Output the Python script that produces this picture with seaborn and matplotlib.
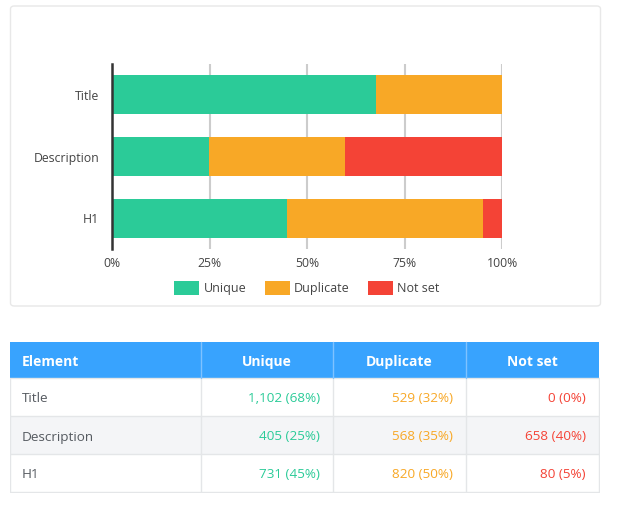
import matplotlib
matplotlib.use('Agg')
import matplotlib.pyplot as plt
import seaborn as sns
import pandas as pd
from matplotlib.patches import Rectangle, FancyBboxPatch, Patch
from matplotlib.ticker import PercentFormatter

# Data
elements = ['Title', 'Description', 'H1']
unique = [1102, 405, 731]
duplicate = [529, 568, 820]
not_set = [0, 658, 80]
series = ['Unique', 'Duplicate', 'Not set']
colors = ['#2bcb98', '#f8a826', '#f44336']
xticks = [0, 25, 50, 75, 100]

sns.set_theme(style='white')
plt.rcParams['font.family'] = ['Open Sans', 'DejaVu Sans']

W, H = 617, 508
fig = plt.figure(figsize=(W / 100, H / 100), dpi=100)


def box(x0, y0, x1, y1):
    # pixel box -> figure fraction rect
    return [x0 / W, 1 - y1 / H, (x1 - x0) / W, (y1 - y0) / H]


# Card behind the chart
card = FancyBboxPatch((10.5 / W, 1 - 306 / H), 590 / W, 300 / H,
                      boxstyle='round,pad=0,rounding_size=0.006',
                      transform=fig.transFigure, facecolor='white',
                      edgecolor='#e8e8e8', linewidth=1, zorder=-5)
fig.patches.append(card)

# Stacked bar chart
df = pd.DataFrame({'Element': elements, 'Unique': unique,
                   'Duplicate': duplicate, 'Not set': not_set})
total = df[series].sum(axis=1)
pct = df[series].div(total, axis=0) * 100
cum = pct.cumsum(axis=1)

ax = fig.add_axes(box(112, 64, 502, 249))
for s, c in reversed(list(zip(series, colors))):
    sns.barplot(x=cum[s], y=df['Element'], orient='h', color=c,
                width=0.63, ax=ax, saturation=1, linewidth=0)
ax.set_xlim(0, 100)
ax.set_ylim(2.5, -0.5)
ax.set_xticks(xticks)
ax.xaxis.set_major_formatter(PercentFormatter(decimals=0))
ax.set_xlabel('')
ax.set_ylabel('')
for x in xticks[1:]:
    ax.axvline(x, color='#cccccc', linewidth=1.5, zorder=0)
for sp in ['top', 'right', 'bottom']:
    ax.spines[sp].set_visible(False)
ax.spines['left'].set_color('#333333')
ax.spines['left'].set_linewidth(1.8)
ax.tick_params(axis='both', length=0, labelsize=8.8, colors='#444444')
ax.tick_params(axis='x', pad=6)
ax.tick_params(axis='y', pad=9)
ax.set_facecolor('none')

handles = [Patch(facecolor=c, edgecolor='none', label=s) for s, c in zip(series, colors)]
fig.legend(handles=handles, loc='center', bbox_to_anchor=(307 / W, 1 - 288 / H),
           ncol=3, frameon=False, fontsize=9, handlelength=2.0,
           handleheight=1.3, handletextpad=0.35, columnspacing=1.45,
           labelcolor='#444444')

# Table below the chart
tx = fig.add_axes(box(10, 341, 600, 493))
tx.set_xlim(10, 600)
tx.set_ylim(493, 341)
tx.axis('off')

col_edges = [10, 201, 333, 466, 599]
row_edges = [342, 378, 416, 454, 492]
header = ['Element'] + series
tx.add_patch(Rectangle((10, 342), 589, 36, facecolor='#38a3fe', edgecolor='none'))
for i, yt in enumerate(row_edges[1:-1]):
    fc = '#f4f5f7' if i == 1 else 'white'
    tx.add_patch(Rectangle((10, yt), 589, 38, facecolor=fc, edgecolor='none'))
for yl in row_edges[1:]:
    tx.plot([10, 599], [yl, yl], color='#e4e6e8', linewidth=1)
for xl in col_edges:
    tx.plot([xl, xl], [378, 492], color='#e4e6e8', linewidth=1)
for xl in col_edges[1:-1]:
    tx.plot([xl, xl], [342, 378], color='#7fc2ff', linewidth=1)

hy = 360.5
tx.text(22, hy, header[0], ha='left', va='center_baseline', color='white',
        fontsize=10, fontweight='bold')
for j in range(1, 4):
    tx.text((col_edges[j] + col_edges[j + 1]) / 2, hy, header[j], ha='center',
            va='center_baseline', color='white', fontsize=10, fontweight='bold')

value_right = [320, 453, 586]
for i, el in enumerate(elements):
    yc = (row_edges[i + 1] + row_edges[i + 2]) / 2 + 0.5
    tx.text(22, yc, el, ha='left', va='center_baseline', color='#555a60', fontsize=9.7)
    for j, s in enumerate(series):
        v = df.loc[i, s]
        p = round(pct.loc[i, s])
        tx.text(value_right[j], yc, f'{v:,} ({p}%)', ha='right',
                va='center_baseline', color=colors[j], fontsize=9.7)

fig.savefig('out.png', dpi=100)
